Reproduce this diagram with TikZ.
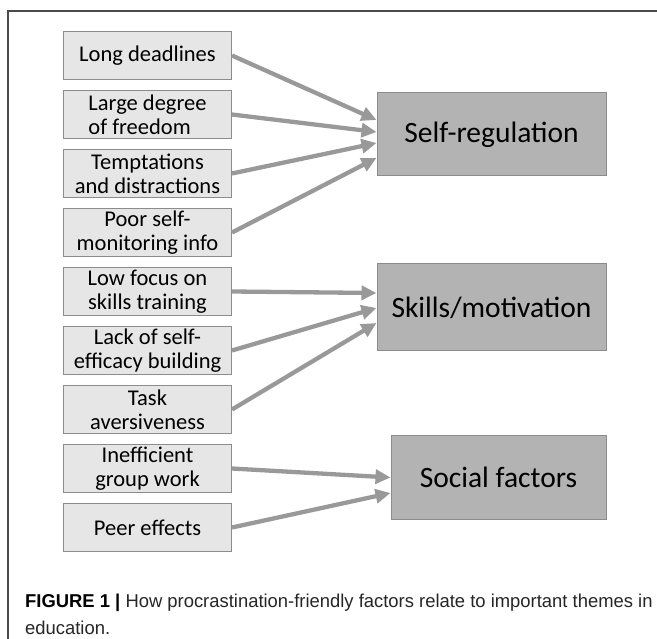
\documentclass[tikz,border=0pt]{standalone}
\usepackage{fontspec}
\setmainfont{Carlito}
\newfontfamily\capfont[FakeStretch=0.99]{Liberation Sans}
\usetikzlibrary{positioning,arrows.meta}
\definecolor{factorFill}{HTML}{E6E6E6}
\definecolor{themeFill}{HTML}{B3B3B3}
\definecolor{boxLine}{HTML}{8C8C8C}
\definecolor{linkGray}{HTML}{999999}
\definecolor{frameGray}{HTML}{4A4A4A}

\begin{document}
\begin{tikzpicture}[
    x=1pt, y=1pt,
    factor/.style={draw=boxLine, fill=factorFill, line width=1pt, minimum width=168pt, minimum height=48pt, align=center, inner sep=0pt, font=\fontsize{22.5}{24}\selectfont},
    theme/.style={draw=boxLine, fill=themeFill, line width=1pt, minimum width=229pt, minimum height=83pt, inner sep=0pt, font=\fontsize{29.5}{32}\selectfont},
    link/.style={-{Triangle[length=15pt,width=14pt]}, line width=4.3pt, draw=linkGray}
]
\useasboundingbox (0,0) rectangle (657,-639);
\draw[frameGray, line width=1.5pt] (657,-11) -- (8,-11) -- (8,-639);

% factors
\node[factor, anchor=north west] (deadlines) at (63,-31) {Long deadlines};
\node[factor, align=left, below=10pt of deadlines] (freedom) {Large degree\\of freedom\hspace*{14pt}};
\node[factor, below=10pt of freedom] (temptation) {Temptations\\and distractions};
\node[factor, below=10pt of temptation] (monitoring) {Poor self-\\monitoring info};
\node[factor, below=10pt of monitoring] (training) {Low focus on\\skills training};
\node[factor, below=10pt of training] (efficacy) {Lack of self-\\efficacy building};
\node[factor, below=10pt of efficacy] (aversion) {Task\\aversiveness};
\node[factor, below=10pt of aversion] (groupwork) {Inefficient\\group work};
\node[factor, below=10pt of groupwork] (peers) {Peer effects};

% themes
\node[theme] (selfreg) at (491.5,-134.5) {Self-regulation};
\node[theme, minimum height=87pt] (skills) at (491.5,-307.5) {Skills/motivation};
\node[theme, minimum width=215pt] (social) at (498.5,-477.5) {Social factors};

\draw[link] (deadlines.east) -- ([yshift=14.5pt]selfreg.west);
\draw[link] (freedom.east) -- ([yshift=2.5pt]selfreg.west);
\draw[link] (temptation.east) -- ([yshift=-8.5pt]selfreg.west);
\draw[link] (monitoring.east) -- ([yshift=-23.5pt]selfreg.west);
\draw[link] (training.east) -- ([yshift=14.5pt]skills.west);
\draw[link] (efficacy.east) -- ([yshift=-0.5pt]skills.west);
\draw[link] (aversion.east) -- ([yshift=-15.5pt]skills.west);
\draw[link] (groupwork.east) -- (social.west);
\draw[link] (peers.east) -- ([yshift=-15.5pt]social.west);

\node[anchor=base west, align=left, inner sep=0pt, text=black!85, font=\capfont\fontsize{18.6}{27}\selectfont] (caption) at (25,-634)
    {{\bfseries\color{black} FIGURE 1 |} How procrastination-friendly factors relate to important themes in\\education.};
\end{tikzpicture}
\end{document}
